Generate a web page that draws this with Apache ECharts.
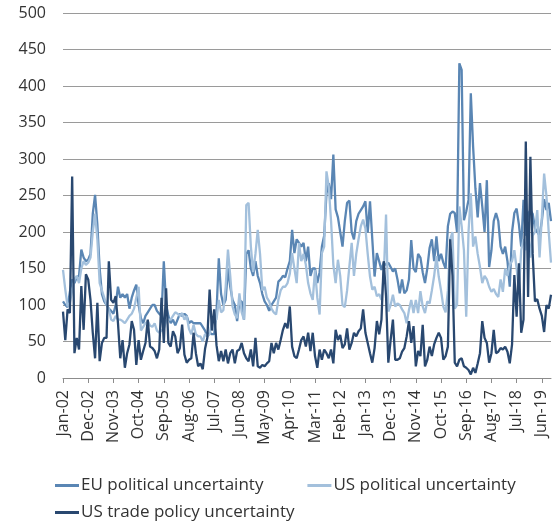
<!DOCTYPE html>
<html>
<head>
<meta charset="utf-8">
<script src="https://cdn.jsdelivr.net/npm/echarts@6/dist/echarts.min.js"></script>
<style>
html,body{margin:0;padding:0;background:#fff;}
#chart{width:556px;height:523px;}
</style>
</head>
<body>
<div id="chart"></div>
<script>
// Categories: monthly, Jan-02 .. Oct-19
var monthNames = ['Jan','Feb','Mar','Apr','May','Jun','Jul','Aug','Sep','Oct','Nov','Dec'];
var startYear = 2002, monthCount = 214;
var categories = [];
for (var k = 0; k < monthCount; k++) {
  var yy = startYear + Math.floor(k / 12);
  categories.push(monthNames[k % 12] + '-' + String(yy % 100).padStart(2, '0'));
}

var yTicks = [0, 50, 100, 150, 200, 250, 300, 350, 400, 450, 500];

var euPolitical = [
  105,100,97,118,135,130,138,140,176,165,
  160,162,170,225,251,210,150,115,105,100,
  95,92,88,100,125,110,115,110,115,95,
  110,120,128,100,82,75,85,90,95,100,
  100,92,88,85,160,100,85,75,80,72,
  80,88,85,88,85,75,78,75,75,75,
  75,70,65,57,62,60,60,90,164,115,
  100,107,150,125,107,100,78,105,105,80,
  170,175,150,140,160,140,130,115,105,100,
  92,100,105,110,132,135,140,138,150,160,
  203,171,190,185,180,185,160,180,140,150,
  150,130,145,180,195,253,267,245,306,231,
  220,200,180,215,240,243,200,190,215,225,
  230,235,242,199,242,190,139,171,160,148,
  158,155,158,152,146,150,135,116,135,116,
  120,135,189,150,145,170,165,145,130,150,
  178,190,160,194,160,170,158,150,208,225,
  228,226,200,431,422,216,228,244,390,317,
  260,220,267,235,200,271,152,175,215,226,
  215,180,170,180,160,125,200,226,232,210,
  180,244,195,225,230,225,205,200,195,215,
  245,230,240,215
];

var usPolitical = [
  148,121,98,103,120,135,140,130,150,160,
  155,158,165,200,225,190,130,120,110,100,
  95,80,78,85,80,80,78,75,80,85,
  88,95,110,125,65,70,75,78,72,70,
  75,65,62,65,68,78,80,80,85,90,
  88,85,89,80,85,67,60,73,60,57,
  57,50,60,57,60,78,80,80,107,90,
  93,125,176,140,98,87,82,116,90,80,
  237,240,180,145,170,203,170,120,125,110,
  105,95,90,87,107,120,125,125,130,143,
  171,150,130,185,160,170,155,130,116,107,
  148,110,87,171,180,283,262,215,155,130,
  162,140,100,97,120,153,185,140,170,190,
  208,217,205,170,139,121,125,112,115,107,
  140,224,91,100,114,98,102,100,94,89,
  75,93,107,89,107,89,119,98,89,105,
  102,120,140,167,139,120,98,90,120,190,
  200,95,100,235,208,175,84,200,253,180,
  194,170,152,130,140,135,125,118,122,115,
  111,135,118,150,140,155,160,175,150,120,
  175,190,175,205,165,195,200,230,165,220,
  280,250,200,158
];

var usTrade = [
  91,52,94,89,276,34,55,39,126,66,
  142,135,107,62,27,103,23,48,55,55,
  160,107,103,112,75,27,52,14,34,46,
  78,66,18,52,25,37,48,80,43,41,
  37,27,39,110,48,123,48,43,64,57,
  34,41,73,32,21,25,27,62,34,16,
  20,12,40,55,121,65,94,45,23,37,
  23,39,20,34,39,20,37,39,48,34,
  27,23,39,16,55,16,14,18,16,20,
  23,48,34,48,39,52,66,75,68,98,
  43,30,27,39,52,57,43,62,37,62,
  30,14,39,25,39,34,27,39,20,66,
  52,59,41,46,68,39,48,62,57,64,
  68,94,62,48,34,21,41,78,60,80,
  160,112,21,52,80,25,25,27,36,41,
  57,78,48,71,16,37,30,73,16,25,
  43,30,46,55,62,55,25,30,43,190,
  140,21,16,25,27,16,14,11,5,14,
  7,20,34,78,55,48,21,34,66,34,
  36,41,39,43,36,20,46,141,84,157,
  62,80,324,111,303,170,105,108,95,85,
  63,100,95,114
];

var seriesNames = ['EU political uncertainty', 'US political uncertainty', 'US trade policy uncertainty'];
var seriesColors = ['#5a86b4', '#a3c0dc', '#294870'];

var chart = echarts.init(document.getElementById('chart'), null, {renderer: 'canvas'});
var font = '"Open Sans", "Noto Sans", sans-serif';

chart.setOption({
  animation: false,
  textStyle: {fontFamily: font},
  grid: {left: 63, right: 5, top: 13, bottom: 145},
  legend: [
    {
      data: [seriesNames[0], seriesNames[1]],
      left: 50, top: 472,
      itemWidth: 24, itemHeight: 3, itemGap: 44,
      icon: 'rect',
      textStyle: {fontSize: 17, color: '#333', fontFamily: font, padding: [0,0,0,-3]}
    },
    {
      data: [seriesNames[2]],
      left: 50, top: 499,
      itemWidth: 24, itemHeight: 3,
      icon: 'rect',
      textStyle: {fontSize: 17, color: '#333', fontFamily: font, padding: [0,0,0,-3]}
    }
  ],
  xAxis: {
    type: 'category',
    data: categories,
    boundaryGap: false,
    axisLine: {lineStyle: {color: '#8c8c8c', width: 1}},
    axisTick: {show: true, interval: 10, length: 5, lineStyle: {color: '#8c8c8c'}},
    axisLabel: {interval: 10, rotate: 90, fontSize: 16, color: '#333', margin: 12, fontFamily: font},
    splitLine: {show: false}
  },
  yAxis: {
    type: 'value',
    min: yTicks[0], max: yTicks[yTicks.length - 1], interval: 50,
    axisLine: {show: false},
    axisTick: {show: false},
    axisLabel: {fontSize: 16, color: '#333', margin: 17, fontFamily: font},
    splitLine: {lineStyle: {color: '#9a9a9a', width: 1}}
  },
  series: [
    {name: seriesNames[0], type: 'line', data: euPolitical, showSymbol: false, symbol: 'none',
     lineStyle: {width: 2.3, color: seriesColors[0]}, itemStyle: {color: seriesColors[0]}},
    {name: seriesNames[1], type: 'line', data: usPolitical, showSymbol: false, symbol: 'none',
     lineStyle: {width: 2.3, color: seriesColors[1]}, itemStyle: {color: seriesColors[1]}},
    {name: seriesNames[2], type: 'line', data: usTrade, showSymbol: false, symbol: 'none',
     lineStyle: {width: 2.3, color: seriesColors[2]}, itemStyle: {color: seriesColors[2]}}
  ]
});
</script>
</body>
</html>
